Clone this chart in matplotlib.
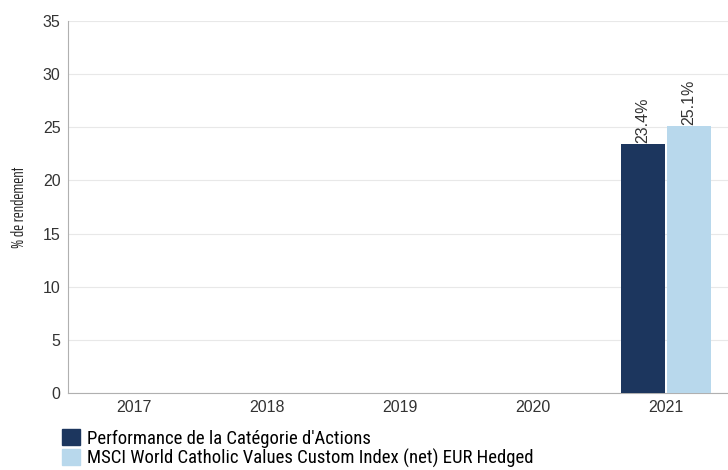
import matplotlib
matplotlib.use("Agg")
import matplotlib.pyplot as plt
import numpy as np
from matplotlib.patches import Patch

years = ["2017", "2018", "2019", "2020", "2021"]
fund = [np.nan, np.nan, np.nan, np.nan, 23.4]
index = [np.nan, np.nan, np.nan, np.nan, 25.1]
series_names = ["Performance de la Catégorie d'Actions",
                "MSCI World Catholic Values Custom Index (net) EUR Hedged"]
colors = ["#1c365e", "#b8d8ec"]

fig = plt.figure(figsize=(7.28, 4.70), dpi=100)
ax = fig.add_axes([67.5/728, 1-393/470, 665/728, (393-21)/470])

x = np.arange(len(years))
w = 0.338
gap = 0.004
b1 = ax.bar(x - w/2 - gap, fund, width=w, color=colors[0], zorder=3)
b2 = ax.bar(x + w/2 + gap, index, width=w, color=colors[1], zorder=3)

for bars, vals in ((b1, fund), (b2, index)):
    for rect, v in zip(bars, vals):
        if not np.isnan(v):
            ax.text(rect.get_x() + rect.get_width()/2, v + 0.15, f"{v:.1f}%",
                    rotation=90, ha="center", va="bottom", fontsize=11.5,
                    color="#333333", family="Liberation Sans")

ax.set_xlim(-0.5, len(years) - 0.5)
ax.set_ylim(0, 35)
ax.set_yticks(np.arange(0, 36, 5))
ax.set_xticks(x)
ax.set_xticklabels(years)
ax.tick_params(axis="both", length=0, labelsize=11.5, colors="#333333")
ax.tick_params(axis="y", pad=5)
ax.tick_params(axis="x", pad=5)
for lab in ax.get_xticklabels() + ax.get_yticklabels():
    lab.set_family("Liberation Sans")
ax.grid(axis="y", color="#e8e8e8", linewidth=0.8, zorder=0)
for s in ("top", "right"):
    ax.spines[s].set_visible(False)
for s in ("left", "bottom"):
    ax.spines[s].set_color("#b0b0b0")
    ax.spines[s].set_linewidth(0.8)

ax.set_ylabel("% de rendement", fontsize=11.8, family="Saira ExtraCondensed",
              color="#222222", labelpad=11.5)

handles = [Patch(color=c) for c in colors]
fig.legend(handles, series_names, loc="upper left",
           bbox_to_anchor=(62/728, 1-429/470), frameon=False,
           handlelength=0.96, handleheight=0.96,
           handletextpad=0.38, labelspacing=0.05, borderaxespad=0, borderpad=0,
           prop={"family": "Roboto Condensed", "size": 13.5})

fig.savefig("out.png", dpi=100)
